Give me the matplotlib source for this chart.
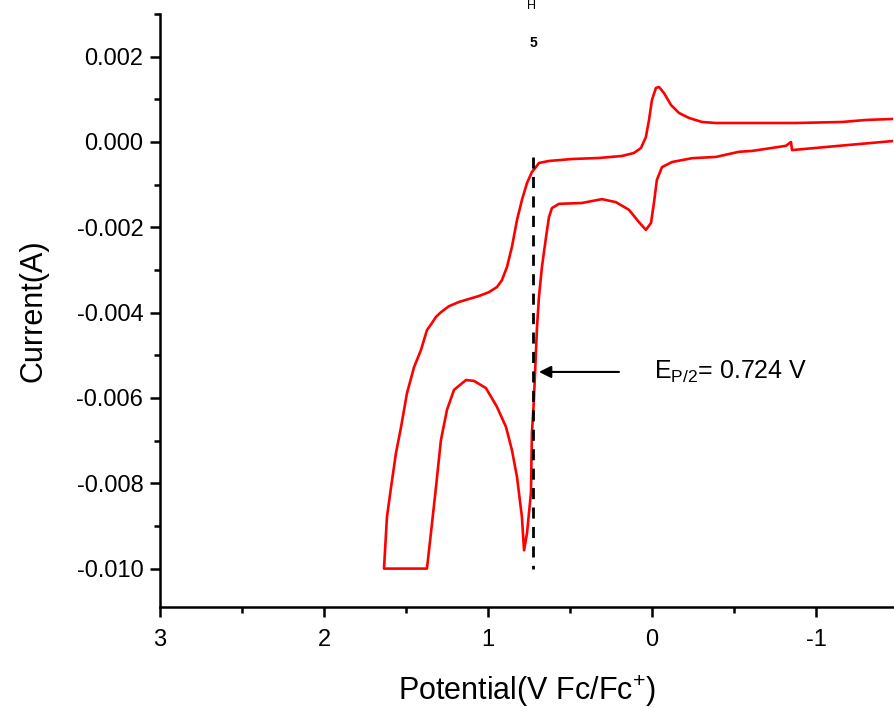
import matplotlib
matplotlib.use("Agg")
import matplotlib.pyplot as plt
from matplotlib.ticker import MultipleLocator

plt.rcParams['font.family'] = ['Liberation Sans', 'DejaVu Sans']
plt.rcParams['mathtext.fontset'] = 'custom'
plt.rcParams['mathtext.rm'] = 'Liberation Sans'
plt.rcParams['mathtext.it'] = 'Liberation Sans'
plt.rcParams['mathtext.bf'] = 'Liberation Sans:bold'

# Cyclic voltammogram (potential in V vs Fc/Fc+, current in A)
potential = [-1.463, -1.305, -1.159, -0.878, -0.530, -0.390, -0.305, -0.226, -0.165, -0.116,
             -0.073, -0.043, -0.024, 0.000, 0.018, 0.037, 0.067, 0.110, 0.183, 0.323,
             0.488, 0.628, 0.689, 0.707, 0.732, 0.762, 0.793, 0.823, 0.854, 0.884,
             0.915, 0.945, 0.994, 1.055, 1.116, 1.177, 1.238, 1.287, 1.317, 1.341,
             1.372, 1.409, 1.451, 1.494, 1.530, 1.561, 1.591, 1.616, 1.634, 1.372,
             1.348, 1.317, 1.287, 1.250, 1.207, 1.134, 1.085, 1.012, 0.945, 0.890,
             0.854, 0.823, 0.793, 0.780, 0.762, 0.738, 0.732, 0.720, 0.707, 0.701,
             0.689, 0.671, 0.646, 0.628, 0.610, 0.567, 0.427, 0.305, 0.220, 0.140,
             0.079, 0.037, 0.006, -0.012, -0.030, -0.061, -0.122, -0.244, -0.390, -0.530,
             -0.610, -0.817, -0.848, -0.854, -1.140, -1.463]
current = [0.000539, 0.000516, 0.000469, 0.000445, 0.000445, 0.000445, 0.000469, 0.000563, 0.000680, 0.000868,
           0.001149, 0.001290, 0.001266, 0.000985, 0.000516, 0.000117, -0.000141, -0.000258, -0.000328, -0.000375,
           -0.000399, -0.000445, -0.000492, -0.000586, -0.000703, -0.000961, -0.00136, -0.00183, -0.00246, -0.00293,
           -0.00324, -0.00340, -0.00352, -0.00361, -0.00368, -0.00375, -0.00385, -0.00399, -0.00410, -0.00424,
           -0.00441, -0.00488, -0.00528, -0.00589, -0.00668, -0.00729, -0.00809, -0.00879, -0.01000, -0.01000,
           -0.00917, -0.00809, -0.00699, -0.00628, -0.00581, -0.00558, -0.00560, -0.00577, -0.00621, -0.00668,
           -0.00722, -0.00785, -0.00879, -0.00957, -0.00917, -0.00823, -0.00682, -0.00605, -0.00488, -0.00434,
           -0.00363, -0.00293, -0.00223, -0.00176, -0.00155, -0.00145, -0.00143, -0.00134, -0.00141, -0.00159,
           -0.00188, -0.00206, -0.00190, -0.00143, -0.00089, -0.00059, -0.00047, -0.00038, -0.00035, -0.00023,
           -0.00021, -0.00009, 0.0, -0.00019, -0.00009, 0.00002]

e_half = 0.724
e_half_label = "E$_{P/2}$= 0.724 V"
dash_current = [-0.00035, -0.0100]
x_ticks = [3, 2, 1, 0, -1]
y_ticks = [0.002, 0.000, -0.002, -0.004, -0.006, -0.008, -0.010]

fig = plt.figure(figsize=(8.94, 7.08), dpi=100)
ax = fig.add_axes([160/894, 101/708, 1 - 160/894, 593/708])

ax.plot(potential, current, color='#ff0000', lw=1.9, solid_joinstyle='round')
ax.plot([e_half, e_half], dash_current, color='black', lw=2, linestyle=(0, (4, 3)))
ax.annotate('', xy=(0.689, -0.00539), xytext=(0.201, -0.00539),
            arrowprops=dict(arrowstyle='-|>', color='black', lw=1.5, mutation_scale=18,
                            shrinkA=0, shrinkB=0))
ax.text(-0.01, -0.00539, e_half_label, fontsize=18, va='center', ha='left')

ax.set_xlim(3, -1.476)
ax.set_ylim(-0.0109, 0.0030)
ax.set_xticks(x_ticks)
ax.set_xticklabels([str(t) for t in x_ticks])
ax.set_yticks(y_ticks)
ax.set_yticklabels([f"{t:.3f}" for t in y_ticks])
ax.xaxis.set_minor_locator(MultipleLocator(0.5))
ax.yaxis.set_minor_locator(MultipleLocator(0.001))

for s in ['top', 'right']:
    ax.spines[s].set_visible(False)
for s in ['left', 'bottom']:
    ax.spines[s].set_linewidth(1.8)

ax.tick_params(which='major', direction='out', length=7, width=1.8, labelsize=17, pad=5)
ax.tick_params(axis='x', which='major', pad=9)
ax.tick_params(which='minor', direction='out', length=4, width=1.8)

ax.set_xlabel("Potential(V Fc/Fc$^{+}$)", fontsize=22, labelpad=16)
ax.set_ylabel("Current(A)", fontsize=22, labelpad=20)

fig.text(532/894, 1 - 6/708, "H", fontsize=9, ha='center', va='center')
fig.text(533/894, 1 - 43/708, "5", fontsize=10, fontweight='bold', ha='center', va='center')

fig.savefig("out.png", dpi=100)
